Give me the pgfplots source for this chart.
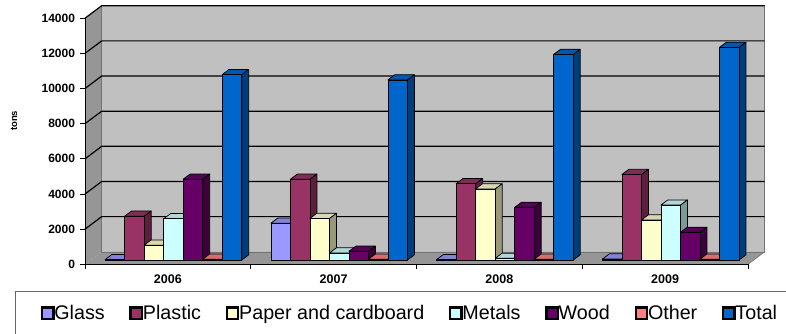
\documentclass[border=0pt]{standalone}
\usepackage{pgfplots}
\pgfplotsset{compat=1.18}
\usepackage{fontspec}
\setmainfont{Liberation Sans}

\definecolor{cGlass}{HTML}{9999FF}
\definecolor{cPlastic}{HTML}{993366}
\definecolor{cPaper}{HTML}{FFFFCC}
\definecolor{cMetals}{HTML}{CCFFFF}
\definecolor{cWood}{HTML}{660066}
\definecolor{cOther}{HTML}{FF8080}
\definecolor{cTotal}{HTML}{0066CC}
\definecolor{wallback}{HTML}{C0C0C0}
\definecolor{wallside}{HTML}{969696}

% 3D column drawn at each data point (origin = front-plane data point)
\newcommand\defprism[3]{%
  \pgfdeclareplotmark{#1}{%
    \pgfmathsetmacro\bh{\ry*0.0175714}%
    \pgfmathsetmacro\bL{#2-4.25}%
    \pgfmathsetmacro\bR{#2+15.25}%
    \pgfmathsetmacro\bRR{\bR+7}%
    \pgfmathsetmacro\bLL{\bL+7}%
    \def\bT{4.2}\def\bTT{9.4}%
    \pgfmathsetmacro\bB{4.2-\bh}%
    \pgfmathsetmacro\bBB{\bB+5.2}%
    \pgfsetlinewidth{0.75pt}\pgfsetstrokecolor{black}\pgfsetroundjoin
    \pgfpathmoveto{\pgfpoint{\bR pt}{\bB pt}}%
    \pgfpathlineto{\pgfpoint{\bRR pt}{\bBB pt}}%
    \pgfpathlineto{\pgfpoint{\bRR pt}{\bTT pt}}%
    \pgfpathlineto{\pgfpoint{\bR pt}{\bT pt}}%
    \pgfpathclose
    \pgfsetfillcolor{#3!60!black}\pgfusepath{fill,stroke}%
    \pgfpathmoveto{\pgfpoint{\bL pt}{\bT pt}}%
    \pgfpathlineto{\pgfpoint{\bR pt}{\bT pt}}%
    \pgfpathlineto{\pgfpoint{\bRR pt}{\bTT pt}}%
    \pgfpathlineto{\pgfpoint{\bLL pt}{\bTT pt}}%
    \pgfpathclose
    \pgfsetfillcolor{#3!85!black}\pgfusepath{fill,stroke}%
    \pgfpathrectanglecorners{\pgfpoint{\bL pt}{\bB pt}}{\pgfpoint{\bR pt}{\bT pt}}%
    \pgfsetfillcolor{#3}\pgfusepath{fill,stroke}%
  }}
\defprism{pGlass}{-58.5}{cGlass}
\defprism{pPlastic}{-39}{cPlastic}
\defprism{pPaper}{-19.5}{cPaper}
\defprism{pMetals}{0}{cMetals}
\defprism{pWood}{19.5}{cWood}
\defprism{pOther}{39}{cOther}
\defprism{pTotal}{58.5}{cTotal}

\pgfplotsset{
  bar3d/.style={scatter, only marks, mark=#1,
    scatter/use mapped color={draw=black, fill=black},
    visualization depends on={rawy \as \ry}},
  legsq/.style={legend image code/.code={%
    \fill[black] (0pt,-6.2pt) rectangle (12.6pt,6.4pt);
    \fill[#1] (2.3pt,-3.9pt) rectangle (10.3pt,4.1pt);}},
}

\begin{document}
\begin{tikzpicture}[x=1pt,y=1pt]
\useasboundingbox (0,0) rectangle (786,333);
% walls
\fill[wallback] (101.7,81.2) rectangle (764.7,327.2);
\fill[wallside] (85,68.7) -- (85,314.7) -- (101.7,327.2) -- (101.7,81.2) -- cycle;
\fill[wallside] (85,68.7) -- (748,68.7) -- (764.7,81.2) -- (101.7,81.2) -- cycle;
\draw[black!55, line width=0.6pt] (101.7,81.2) rectangle (764.7,327.2);
\draw[black!55, line width=0.6pt] (748,68.7) -- (764.7,81.2);
\foreach \v in {2000,4000,...,14000}{
  \pgfmathsetmacro\yy{68.7+\v*0.0175714}
  \draw[black, line width=1.2pt] (85,\yy) -- (101.7,\yy+12.5) -- (764.7,\yy+12.5);
}
% legend frame
\draw[black!60, line width=0.8pt] (15.7,-5) -- (15.7,42) -- (800,42);

\begin{axis}[
  at={(85pt,68.7pt)}, anchor=south west,
  x=165.75pt, y=0.0175714pt,
  xmin=-0.5, xmax=3.5, ymin=0, ymax=14000,
  clip=false,
  scaled y ticks=false,
  axis x line*=bottom, axis y line*=left,
  axis line style={black, line width=0.8pt, -},
  tick align=outside,
  major tick length=4.5pt,
  tick style={black, line width=0.8pt},
  xtick={-0.5,0.5,1.5,2.5,3.5}, xticklabels={},
  extra x ticks={0,1,2,3},
  extra x tick labels={2006,2007,2008,2009},
  extra x tick style={major tick length=0pt},
  xticklabel style={font=\fontsize{12.5}{14}\selectfont\bfseries, yshift=-7pt},
  ytick={0,2000,4000,6000,8000,10000,12000,14000},
  yticklabels={0,2000,4000,6000,8000,10000,12000,14000},
  yticklabel style={font=\fontsize{12}{14}\selectfont\bfseries, xshift=-2pt},
  ylabel={tons},
  ylabel style={at={(axis description cs:-0.107,0.5825)}, anchor=center,
    font=\fontsize{9.5}{11}\selectfont\bfseries},
  legend columns=-1,
  legend style={at={(axis description cs:-0.0668,-0.198)}, anchor=west,
    draw=none, fill=none, inner sep=0pt,
    font=\fontsize{19.7}{22}\selectfont,
    nodes={inner xsep=0.5pt, inner ysep=2pt},
    /tikz/every odd column/.append style={column sep=0pt},
    /tikz/every even column/.append style={column sep=24.2pt}},
]
\addplot[bar3d=pGlass, legsq=cGlass] coordinates {(0,30) (1,2100) (2,30) (3,60)};
\addlegendentry{Glass}
\addplot[bar3d=pPlastic, legsq=cPlastic] coordinates {(0,2500) (1,4600) (2,4350) (3,4870)};
\addlegendentry{Plastic}
\addplot[bar3d=pPaper, legsq=cPaper] coordinates {(0,850) (1,2370) (2,4050) (3,2280)};
\addlegendentry{Paper and cardboard}
\addplot[bar3d=pMetals, legsq=cMetals] coordinates {(0,2350) (1,400) (2,100) (3,3130)};
\addlegendentry{Metals}
\addplot[bar3d=pWood, legsq=cWood] coordinates {(0,4600) (1,500) (2,3000) (3,1580)};
\addlegendentry{Wood}
\addplot[bar3d=pOther, legsq=cOther] coordinates {(0,50) (1,50) (2,50) (3,50)};
\addlegendentry{Other}
\addplot[bar3d=pTotal, legsq=cTotal] coordinates {(0,10550) (1,10250) (2,11700) (3,12100)};
\addlegendentry{Total}
\end{axis}
\end{tikzpicture}
\end{document}
